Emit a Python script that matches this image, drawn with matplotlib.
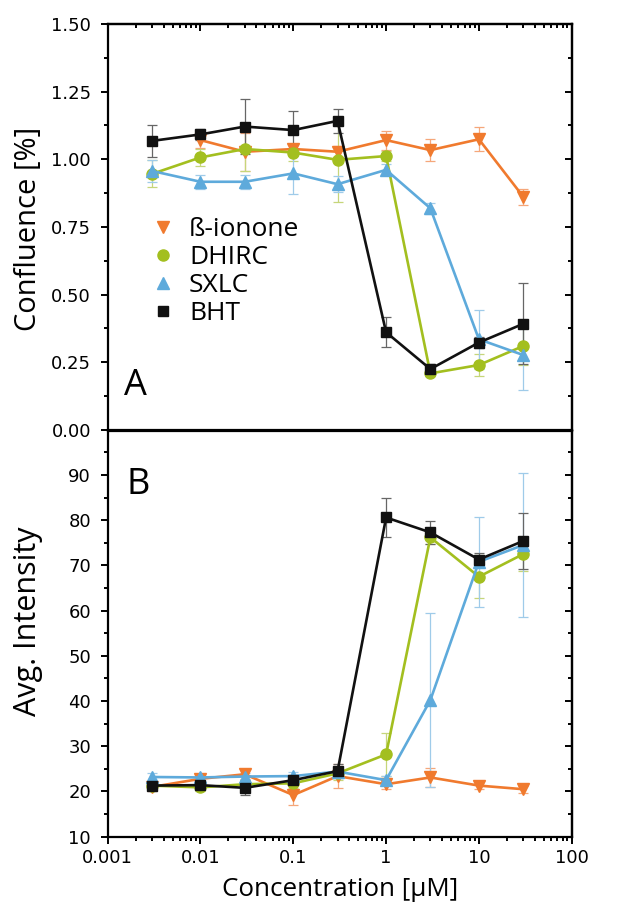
import matplotlib

matplotlib.use("Agg")

import matplotlib.pyplot as plt
import numpy as np
from matplotlib.lines import Line2D
from matplotlib.ticker import FixedLocator, MultipleLocator, LogLocator, NullFormatter

# concentrations [uM]
conc = [0.003, 0.01, 0.03, 0.1, 0.3, 1, 3, 10, 30]
series_names = ["ß-ionone", "DHIRC", "SXLC", "BHT"]

# panel A: confluence
conf_ionone = [np.nan, 1.071, 1.028, 1.038, 1.028, 1.071, 1.034, 1.074, 0.862]
conf_ionone_err = [np.nan, 0.03, 0.07, 0.02, 0.02, 0.035, 0.04, 0.045, 0.03]
conf_dhirc = [0.946, 1.007, 1.038, 1.025, 0.998, 1.012, 0.209, 0.240, 0.310]
conf_dhirc_err = [0.05, 0.03, 0.08, 0.03, 0.155, 0.02, 0.01, 0.04, 0.07]
conf_sxlc = [0.957, 0.917, 0.917, 0.948, 0.908, 0.961, 0.819, 0.335, 0.277]
conf_sxlc_err = [0.04, 0.025, 0.025, 0.075, 0.03, 0.02, 0.02, 0.11, 0.13]
conf_bht = [1.068, 1.092, 1.121, 1.108, 1.142, 0.361, 0.225, 0.323, 0.392]
conf_bht_err = [0.06, 0.02, 0.10, 0.07, 0.045, 0.055, 0.02, 0.02, 0.15]

# panel B: average intensity
int_ionone = [21.0, 22.8, 23.8, 19.2, 23.4, 21.6, 23.1, 21.3, 20.5]
int_ionone_err = [1.0, 1.0, 1.0, 2.2, 2.6, 1.0, 2.1, 0.8, 0.8]
int_dhirc = [21.3, 20.9, 21.6, 21.8, 24.0, 28.2, 76.2, 67.5, 72.5]
int_dhirc_err = [0.8, 0.8, 1.0, 1.0, 1.5, 4.8, 1.5, 4.8, 3.7]
int_sxlc = [23.2, 23.1, 23.3, 23.4, 24.4, 22.5, 40.2, 70.8, 74.5]
int_sxlc_err = [0.8, 0.8, 0.8, 0.8, 1.0, 1.0, 19.2, 10.0, 16.0]
int_bht = [21.3, 21.4, 20.8, 22.5, 24.5, 80.6, 77.3, 71.3, 75.4]
int_bht_err = [1.0, 1.0, 1.5, 1.0, 1.5, 4.4, 2.6, 1.5, 6.3]

conf_ticks = [0.0, 0.25, 0.5, 0.75, 1.0, 1.25, 1.5]
int_ticks = [10, 20, 30, 40, 50, 60, 70, 80, 90]
x_ticks = [0.001, 0.01, 0.1, 1, 10, 100]
x_ticklabels = ["0.001", "0.01", "0.1", "1", "10", "100"]

ORANGE = "#f07a2e"
GREEN = "#a3bf1f"
BLUE = "#5eaadb"
BLACK = "#111111"

STYLES = [
    dict(color=ORANGE, marker="v", ms=9, ecolor="#f5a77a"),
    dict(color=GREEN, marker="o", ms=8, ecolor="#c6d67a"),
    dict(color=BLUE, marker="^", ms=9, ecolor="#9fcbe9"),
    dict(color=BLACK, marker="s", ms=7.5, ecolor="#666666"),
]

LABEL_FONT = "Open Sans"


def style_axis(ax, ylim, yticks, yminor, fmt, show_xlabels):
    ax.set_xscale("log")
    ax.set_xlim(0.001, 100)
    ax.set_ylim(*ylim)
    ax.yaxis.set_major_locator(FixedLocator(yticks))
    ax.yaxis.set_minor_locator(MultipleLocator(yminor))
    ax.set_yticklabels([fmt.format(t) for t in yticks])
    ax.xaxis.set_major_locator(FixedLocator(x_ticks))
    ax.xaxis.set_minor_locator(LogLocator(base=10, subs=np.arange(2, 10)))
    ax.xaxis.set_minor_formatter(NullFormatter())
    if show_xlabels:
        ax.set_xticklabels(x_ticklabels)
    else:
        ax.tick_params(labelbottom=False)
    ax.tick_params(which="both", direction="out", width=1.4, labelsize=13,
                   right=False, top=False)
    ax.tick_params(axis="y", which="major", length=5, pad=7)
    ax.tick_params(axis="x", which="major", length=5, pad=4)
    ax.tick_params(which="minor", length=3)
    for sp in ax.spines.values():
        sp.set_linewidth(1.6)

    # inward ticks on the right side
    sec = ax.secondary_yaxis("right")
    sec.yaxis.set_major_locator(FixedLocator(yticks))
    sec.yaxis.set_minor_locator(MultipleLocator(yminor))
    sec.tick_params(which="both", direction="in", width=1.4, labelright=False)
    sec.tick_params(which="major", length=5)
    sec.tick_params(which="minor", length=3)
    sec.spines["right"].set_linewidth(1.6)


def draw_series(ax, ys, errs):
    for y, e, st in zip(ys, errs, STYLES):
        ax.errorbar(conc, y, yerr=e, color=st["color"], marker=st["marker"],
                    ms=st["ms"], lw=1.9, ecolor=st["ecolor"], elinewidth=0.9,
                    capsize=3.5, capthick=0.9, mec=st["color"])


fig = plt.figure(figsize=(6.21, 9.05), dpi=100)
ax_a = fig.add_axes([0.1734, 0.5249, 0.7472, 0.4486])
ax_b = fig.add_axes([0.1734, 0.0755, 0.7472, 0.4486], sharex=ax_a)

draw_series(ax_a, [conf_ionone, conf_dhirc, conf_sxlc, conf_bht],
            [conf_ionone_err, conf_dhirc_err, conf_sxlc_err, conf_bht_err])
draw_series(ax_b, [int_ionone, int_dhirc, int_sxlc, int_bht],
            [int_ionone_err, int_dhirc_err, int_sxlc_err, int_bht_err])

style_axis(ax_a, (0, 1.5), conf_ticks, 0.125, "{:.2f}", False)
style_axis(ax_b, (10, 99.8), int_ticks, 5, "{:.0f}", True)

# top ticks of panel A point inward
sec_x = ax_a.secondary_xaxis("top")
sec_x.xaxis.set_major_locator(FixedLocator(x_ticks))
sec_x.xaxis.set_minor_locator(LogLocator(base=10, subs=np.arange(2, 10)))
sec_x.tick_params(which="both", direction="in", width=1.4, labeltop=False)
sec_x.tick_params(which="major", length=5)
sec_x.tick_params(which="minor", length=3)
sec_x.spines["top"].set_linewidth(1.6)
ax_b.tick_params(top=False)

ax_a.set_ylabel("Confluence [%]", fontsize=21, family=LABEL_FONT)
ax_b.set_ylabel("Avg. Intensity", fontsize=22, family=LABEL_FONT)
ax_b.set_xlabel("Concentration [µM]", fontsize=18.7, family=LABEL_FONT,
                labelpad=7)
ax_a.yaxis.set_label_coords(-0.14, 0.495)
ax_b.yaxis.set_label_coords(-0.14, 0.531)

ax_a.text(0.035, 0.085, "A", transform=ax_a.transAxes, fontsize=26,
          family=LABEL_FONT, ha="left", va="baseline")
ax_b.text(0.04, 0.845, "B", transform=ax_b.transAxes, fontsize=26,
          family=LABEL_FONT, ha="left", va="baseline")

handles = [Line2D([], [], ls="none", color=st["color"], marker=st["marker"],
                  ms=st["ms"]) for st in STYLES]
ax_a.legend(handles, series_names, loc="upper left",
            bbox_to_anchor=(0.09, 0.525), frameon=False,
            prop={"family": LABEL_FONT, "size": 19}, handlelength=1.0,
            handletextpad=0.5, labelspacing=0.12, borderpad=0,
            borderaxespad=0)

fig.savefig("out.png", dpi=100, facecolor="white")
plt.close(fig)
